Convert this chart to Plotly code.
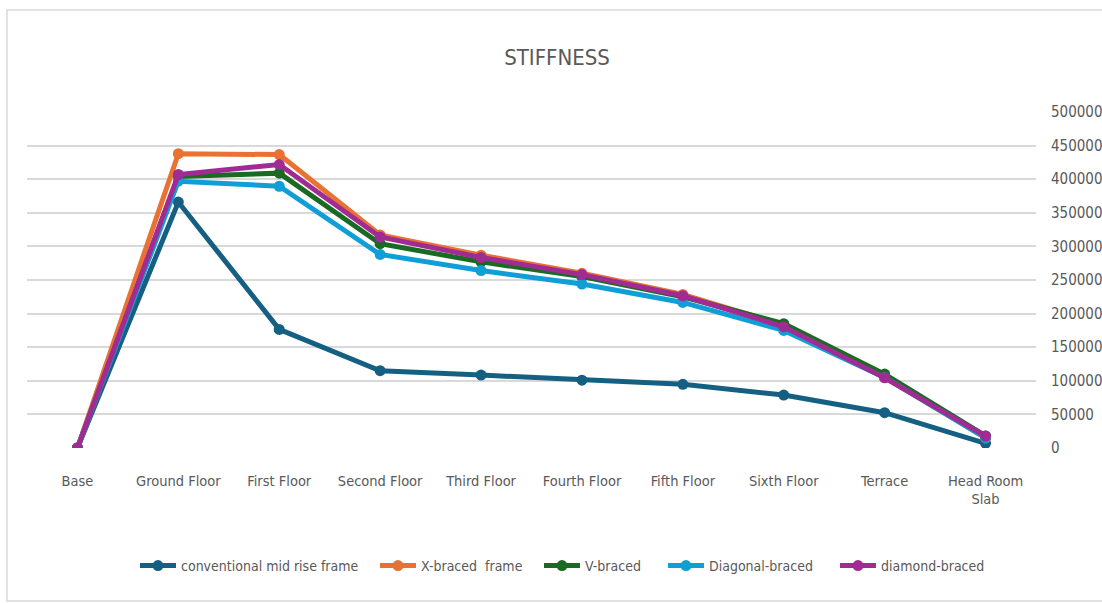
import plotly.graph_objects as go

# Storey levels along the building height
floors = ["Base", "Ground Floor", "First Floor", "Second Floor", "Third Floor",
          "Fourth Floor", "Fifth Floor", "Sixth Floor", "Terrace", "Head Room Slab"]
floor_labels = ["Base", "Ground Floor", "First Floor", "Second Floor", "Third Floor",
                "Fourth Floor", "Fifth Floor", "Sixth Floor", "Terrace", "Head Room<br>Slab"]

# Storey stiffness for each framing system
conventional = [0, 366000, 176500, 115000, 108500, 101000, 94700, 78800, 52500, 7000]
x_braced = [0, 438000, 436600, 317000, 287000, 260000, 228500, 183000, 105000, 15000]
v_braced = [0, 404000, 409000, 304000, 277000, 255000, 225000, 185000, 110000, 18000]
diagonal = [0, 397000, 389500, 288000, 264000, 244000, 216600, 175000, 105000, 15000]
diamond = [0, 407000, 421800, 314000, 283500, 258000, 226500, 180400, 104500, 17800]

series_names = ["conventional mid rise frame", "X-braced  frame", "V-braced",
                "Diagonal-braced", "diamond-braced"]
series_values = [conventional, x_braced, v_braced, diagonal, diamond]
series_colors = ["#156082", "#E97132", "#196B24", "#0F9ED5", "#A02B93"]

font_family = "DejaVu Sans Condensed, sans-serif"
text_color = "#595959"

# Plot-area geometry in pixels
W, H = 1102, 603
L, R, T, B = 27, 66, 112, 155
pw, ph = W - L - R, H - T - B


def px_x(x):
    return (x - L) / pw


def px_y(y):
    return (H - B - y) / ph


# Left edge (px) of each legend entry along the bottom row
legend_left = [135, 375, 539, 663, 835]

fig = go.Figure()
legend_layouts = {}
for i, (name, values, color) in enumerate(zip(series_names, series_values, series_colors)):
    key = "legend" if i == 0 else f"legend{i + 1}"
    fig.add_trace(go.Scatter(
        x=floors, y=values, name=name, mode="lines+markers",
        line=dict(color=color, width=5),
        marker=dict(color=color, size=11, symbol="circle"),
        legend=key,
    ))
    legend_layouts[key] = dict(
        orientation="h", x=px_x(legend_left[i]), xanchor="left",
        y=px_y(566), yanchor="middle",
        font=dict(size=14, color=text_color, family=font_family),
        itemwidth=36, bgcolor="rgba(0,0,0,0)", borderwidth=0,
    )

fig.add_shape(type="rect", xref="paper", yref="paper",
              x0=px_x(7), x1=px_x(1106), y0=px_y(601), y1=px_y(10),
              line=dict(color="#d9d9d9", width=1.5), layer="below")

fig.update_layout(
    width=W, height=H,
    margin=dict(l=L, r=R, t=T, b=B, autoexpand=False),
    paper_bgcolor="white", plot_bgcolor="white",
    font=dict(family=font_family, color=text_color, size=15),
    title=dict(text="STIFFNESS", x=557 / W, xanchor="center", xref="container",
               y=1 - 57 / H, yanchor="middle", yref="container",
               font=dict(size=22, color=text_color, family=font_family)),
    showlegend=True,
    xaxis=dict(type="category", tickmode="array", tickvals=floors, ticktext=floor_labels,
               showgrid=False, zeroline=False, showline=False, ticks="",
               ticklabelstandoff=22, range=[-0.5, len(floors) - 0.5], automargin=False,
               tickfont=dict(size=14.5, family=font_family)),
    yaxis=dict(side="right", range=[0, 500000], dtick=50000, tickformat="d",
               showgrid=True, gridcolor="#d9d9d9", gridwidth=1.5, automargin=False,
               zeroline=False, showline=False, ticks="", ticklabelstandoff=14,
               tickfont=dict(size=15, family=font_family)),
    **legend_layouts,
)

fig.write_html("out.html")
